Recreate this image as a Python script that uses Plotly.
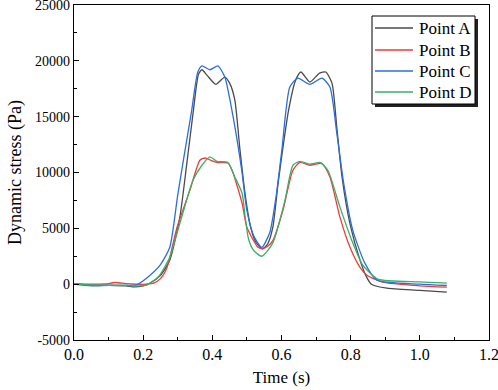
import plotly.graph_objects as go

# Point A (dark gray)
t_a = [0.0, 0.05, 0.10, 0.15, 0.175, 0.20, 0.22, 0.25, 0.277, 0.306, 0.325, 0.345, 0.36, 0.37, 0.385, 0.41, 0.436, 0.45, 0.465, 0.48, 0.495, 0.51, 0.525, 0.545, 0.56, 0.575, 0.59, 0.604, 0.62, 0.64, 0.656, 0.682, 0.71, 0.728, 0.746, 0.76, 0.775, 0.798, 0.827, 0.845, 0.86, 0.905, 1.0, 1.078]
v_a = [0, -80, -100, -150, -250, -150, 100, 800, 2150, 6000, 10500, 15500, 18800, 19200, 18700, 17900, 18550, 18000, 16500, 12000, 8000, 5200, 3800, 3150, 3600, 5100, 9000, 12200, 15500, 18200, 19000, 18100, 18900, 19000, 18000, 14000, 9600, 5400, 2150, 700, 0, -360, -550, -720]

# Point B (red)
t_b = [0.0, 0.05, 0.09, 0.12, 0.15, 0.18, 0.21, 0.23, 0.25, 0.269, 0.298, 0.335, 0.364, 0.379, 0.395, 0.413, 0.445, 0.457, 0.486, 0.50, 0.532, 0.545, 0.56, 0.575, 0.604, 0.633, 0.653, 0.682, 0.717, 0.74, 0.769, 0.798, 0.827, 0.847, 0.893, 1.0, 1.078]
v_b = [50, 0, 20, 150, 50, 0, 0, 90, 500, 1500, 5100, 8400, 11100, 11300, 11100, 10900, 10850, 10200, 7250, 5100, 3300, 3200, 3400, 3900, 6600, 10200, 10900, 10650, 10800, 9600, 6000, 3300, 1500, 800, 180, -150, -270]

# Point C (blue)
t_c = [0.0, 0.05, 0.10, 0.15, 0.182, 0.22, 0.249, 0.277, 0.30, 0.32, 0.34, 0.358, 0.37, 0.393, 0.416, 0.436, 0.46, 0.485, 0.50, 0.52, 0.543, 0.566, 0.585, 0.601, 0.624, 0.647, 0.682, 0.717, 0.74, 0.76, 0.78, 0.806, 0.841, 0.876, 1.0, 1.078]
v_c = [0, -150, -100, -100, -50, 800, 1700, 3300, 8000, 11800, 15500, 19000, 19550, 19200, 19550, 18550, 15000, 10200, 6600, 4300, 3300, 4600, 8000, 12000, 17650, 18450, 17900, 18450, 17650, 13500, 9000, 4840, 1880, 360, 0, -120]

# Point D (green)
t_d = [0.0, 0.05, 0.10, 0.15, 0.17, 0.21, 0.245, 0.277, 0.286, 0.315, 0.344, 0.37, 0.393, 0.413, 0.445, 0.465, 0.486, 0.495, 0.505, 0.52, 0.543, 0.575, 0.61, 0.633, 0.653, 0.682, 0.711, 0.734, 0.769, 0.806, 0.835, 0.879, 1.0, 1.078]
v_d = [0, -60, -100, -100, -150, -90, 700, 2400, 3300, 6400, 9300, 10650, 11400, 11000, 10900, 9600, 8150, 6000, 4000, 3000, 2500, 3700, 7500, 10650, 11000, 10750, 10900, 10200, 6900, 3700, 1700, 450, 200, 90]

series = [
    ("Point A", t_a, v_a, "#4a4a4a"),
    ("Point B", t_b, v_b, "#f03a3a"),
    ("Point C", t_c, v_c, "#2a6fe0"),
    ("Point D", t_d, v_d, "#38b06a"),
]

y_ticks = [-5000, 0, 5000, 10000, 15000, 20000, 25000]
y_tick_text = ["-5000", "0", "5000", "10000", "15000", "20000", "25000"]
x_ticks = [0.0, 0.2, 0.4, 0.6, 0.8, 1.0, 1.2]

W, H = 498, 390
ML, MR, MT, MB = 74, 9, 5, 50
PW, PH = W - ML - MR, H - MT - MB


def px(x):
    return (x - ML) / PW


def py(y):
    return (H - MB - y) / PH


fig = go.Figure()
for name, t, v, c in series:
    fig.add_trace(go.Scatter(x=t, y=v, mode="lines", name=name, showlegend=False,
                             line=dict(color=c, width=1.3, shape="spline", smoothing=0.6)))

font_family = "Liberation Serif"
fig.update_layout(
    width=W, height=H,
    margin=dict(l=ML, r=MR, t=MT, b=MB, autoexpand=False),
    paper_bgcolor="white", plot_bgcolor="white",
    font=dict(family=font_family, size=15, color="black"),
    showlegend=False,
)
fig.update_xaxes(
    range=[0, 1.2], tickvals=x_ticks, tickformat=".1f", automargin=False,
    ticklabeloverflow="allow",
    showgrid=False, zeroline=False, showline=True, linecolor="black", linewidth=1.2,
    mirror=True, ticks="inside", ticklen=5, tickcolor="black",
    minor=dict(ticks="inside", ticklen=3, dtick=0.1, tickcolor="black"),
    title=dict(text="Time (s)", font=dict(size=17, family=font_family), standoff=8),
    tickfont=dict(size=16, family=font_family),
)
fig.update_yaxes(
    range=[-5000, 25000], tickvals=y_ticks, ticktext=y_tick_text, automargin=False,
    ticklabeloverflow="allow",
    showgrid=False, zeroline=False, showline=True, linecolor="black", linewidth=1.2,
    mirror=True, ticks="inside", ticklen=5, tickcolor="black",
    minor=dict(ticks="inside", ticklen=3, dtick=2500, tickcolor="black"),
    title=dict(text="Dynamic stress (Pa)", font=dict(size=18, family=font_family), standoff=8),
    tickfont=dict(size=14, family=font_family),
)

# Legend box (Origin style with drop shadow), built from the series list
bx0, bx1, by0, by1 = 372, 475, 16, 104
fig.add_shape(type="rect", xref="paper", yref="paper",
              x0=px(bx0 + 3), x1=px(bx1 + 3), y0=py(by1 + 3), y1=py(by0 + 3),
              fillcolor="#222222", line=dict(width=0), layer="above")
fig.add_shape(type="rect", xref="paper", yref="paper",
              x0=px(bx0), x1=px(bx1), y0=py(by1), y1=py(by0),
              fillcolor="white", line=dict(color="black", width=1), layer="above")
row_y = [28, 50, 71, 92]
for (name, _, _, c), ry in zip(series, row_y):
    fig.add_shape(type="line", xref="paper", yref="paper",
                  x0=px(375), x1=px(413), y0=py(ry), y1=py(ry),
                  line=dict(color=c, width=1.3), layer="above")
    fig.add_annotation(x=px(417), y=py(ry), xref="paper", yref="paper",
                       text=name, showarrow=False, xanchor="left", yanchor="middle",
                       font=dict(family=font_family, size=17, color="black"))

fig.write_html("out.html", post_script="document.body.style.margin='0';",
               config={"displayModeBar": False})
